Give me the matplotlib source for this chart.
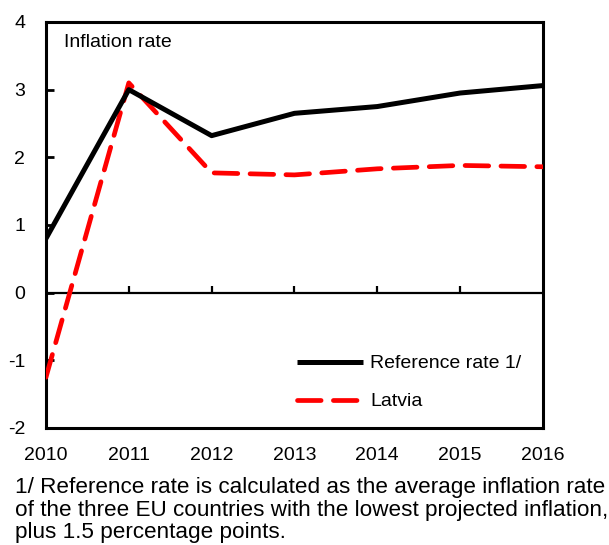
import matplotlib
matplotlib.use("Agg")
from matplotlib import pyplot as plt

years = [2010, 2011, 2012, 2013, 2014, 2015, 2016]
reference_rate = [0.8, 3.0, 2.32, 2.65, 2.75, 2.95, 3.06]
latvia = [-1.25, 3.1, 1.77, 1.74, 1.83, 1.88, 1.86]
y_ticks = [-2, -1, 0, 1, 2, 3, 4]

plt.rcParams["font.family"] = ["Liberation Sans", "DejaVu Sans"]
plt.rcParams["axes.unicode_minus"] = False

fig = plt.figure(figsize=(6.09, 5.45), dpi=100)
ax = fig.add_axes([0.0755, 0.2147, 0.816, 0.745])

ax.plot(years, reference_rate, color="k", lw=3.6, label="Reference rate 1/",
        solid_capstyle="butt", zorder=4)
ax.plot(years, latvia, color="#ff0000", lw=3.4, dashes=(5, 2.6), label="Latvia",
        dash_capstyle="round", zorder=3)

# zero line with small year ticks
ax.axhline(0, color="k", lw=1.6, zorder=2)
ax.vlines(years[1:-1], 0, 0.1, color="k", lw=1.6, zorder=2)

ax.set_xlim(2010, 2016)
ax.set_ylim(-2, 4)
ax.set_xticks(years)
ax.set_yticks(y_ticks)
ax.tick_params(axis="x", length=0, pad=14, labelsize=14)
ax.tick_params(axis="y", direction="in", length=6, width=2, pad=15, labelsize=14)
for s in ax.spines.values():
    s.set_linewidth(2.2)

ax.text(0.036, 0.97, "Inflation rate", transform=ax.transAxes, fontsize=14,
        va="top", ha="left")

ax.legend(loc="lower left", bbox_to_anchor=(0.47, 0.0), frameon=False,
          fontsize=14, handlelength=3.4, handletextpad=0.35, labelspacing=1.05)

fig.text(0.024, 0.064, "1/ Reference rate is calculated as the average inflation rate\n"
         "of the three EU countries with the lowest projected inflation,\n"
         "plus 1.5 percentage points.", fontsize=16.2, va="center", ha="left",
         linespacing=1.08)

fig.savefig("out.png", dpi=100)
